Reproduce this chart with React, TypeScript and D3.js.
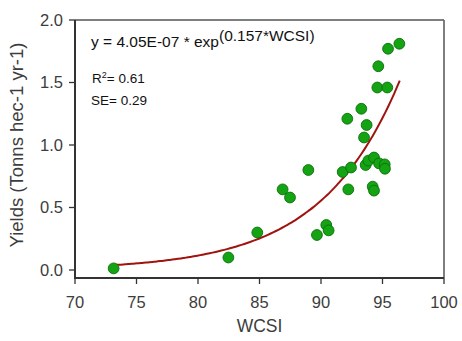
import React from "react";
import * as d3 from "d3";

// Observed yields against the water-conservation index
const wcsi = [
  73.14, 82.47, 84.82, 86.88, 87.48, 88.97, 89.67, 90.43, 90.62, 91.76,
  92.14, 92.22, 92.44, 93.28, 93.5, 93.63, 93.71, 93.85, 94.2, 94.31,
  94.31, 94.58, 94.66, 94.72, 95.18, 95.2, 95.39, 95.45, 96.37,
];
const yields = [
  0.013, 0.1, 0.3, 0.645, 0.58, 0.8, 0.28, 0.36, 0.317, 0.784,
  1.21, 0.645, 0.82, 1.29, 1.06, 0.84, 1.16, 0.875, 0.667, 0.9,
  0.635, 1.46, 1.63, 0.853, 0.845, 0.81, 1.46, 1.77, 1.81,
];

// Exponential fit y = a * exp(b * WCSI)
const fitA = 4.05e-7;
const fitB = 0.157;
const fitRange = [73.0, 96.4];

const xTicks = [70, 75, 80, 85, 90, 95, 100];
const yTicks = [0.0, 0.5, 1.0, 1.5, 2.0];

const W = 462;
const H = 341;
const left = 75;
const right = 444;
const top = 20;
const bottom = 278;

export default function App() {
  const x = d3.scaleLinear().domain([70, 100]).range([left, right]);
  const y = d3.scaleLinear().domain([-0.064, 2.0]).range([bottom, top]);

  const curvePts: [number, number][] = d3
    .range(0, 101)
    .map((i) => {
      const v = fitRange[0] + ((fitRange[1] - fitRange[0]) * i) / 100;
      return [v, fitA * Math.exp(fitB * v)];
    });
  const line = d3
    .line<[number, number]>()
    .x((d) => x(d[0]))
    .y((d) => y(d[1]))
    .curve(d3.curveMonotoneX);

  const font = "'Liberation Sans', Arial, sans-serif";
  const textColor = "#3d3d3d";

  return (
    <svg
      width={W}
      height={H}
      style={{ position: "absolute", left: 0, top: 0, background: "#fff" }}
      fontFamily={font}
    >
      {/* frame */}
      <line x1={left} x2={right} y1={top} y2={top} stroke="#555" strokeWidth={1.5} />
      <line x1={right} x2={right} y1={top} y2={bottom} stroke="#555" strokeWidth={1.5} />
      <line x1={left} x2={left} y1={top} y2={bottom + 1} stroke="#333" strokeWidth={2} />
      <line x1={left - 1} x2={right} y1={bottom} y2={bottom} stroke="#333" strokeWidth={2} />

      {/* y axis */}
      {yTicks.map((t) => (
        <g key={"y" + t}>
          <line x1={left - 6} x2={left} y1={y(t)} y2={y(t)} stroke="#333" strokeWidth={1.3} />
          <text
            x={left - 12}
            y={y(t)}
            dy="0.36em"
            textAnchor="end"
            fontSize={16.5}
            fill={textColor}
          >
            {t.toFixed(1)}
          </text>
        </g>
      ))}

      {/* x axis */}
      {xTicks.map((t) => (
        <g key={"x" + t}>
          <line x1={x(t)} x2={x(t)} y1={bottom} y2={bottom + 6} stroke="#333" strokeWidth={1.3} />
          <text
            x={x(t)}
            y={bottom + 24}
            dy="0.36em"
            textAnchor="middle"
            fontSize={16.5}
            fill={textColor}
          >
            {t}
          </text>
        </g>
      ))}

      <text
        x={(left + right) / 2}
        y={326}
        dy="0.36em"
        textAnchor="middle"
        fontSize={17.5}
        fill={textColor}
      >
        WCSI
      </text>
      <text
        transform={`translate(16,${(top + bottom) / 2 - 4}) rotate(-90)`}
        dy="0.36em"
        textAnchor="middle"
        fontSize={18.5}
        fill={textColor}
      >
        Yields (Tonns hec-1 yr-1)
      </text>

      {/* fitted curve */}
      <path d={line(curvePts) ?? ""} fill="none" stroke="#a0140f" strokeWidth={2} />

      {/* observations */}
      {wcsi.map((v, i) => (
        <circle
          key={i}
          cx={x(v)}
          cy={y(yields[i])}
          r={5.4}
          fill="#13a313"
          stroke="#0b6e0b"
          strokeWidth={0.9}
        />
      ))}

      {/* annotations */}
      <text x={91} y={47} fontSize={15.5} fill="#111">
        y = 4.05E-07 * exp
        <tspan dy={-6}>(0.157*WCSI)</tspan>
      </text>
      <text x={92} y={83} fontSize={13.5} fill="#111">
        R<tspan dy={-5} fontSize={9}>2</tspan>
        <tspan dy={5}>= 0.61</tspan>
      </text>
      <text x={91} y={105} fontSize={13.5} fill="#111">
        SE= 0.29
      </text>
    </svg>
  );
}
